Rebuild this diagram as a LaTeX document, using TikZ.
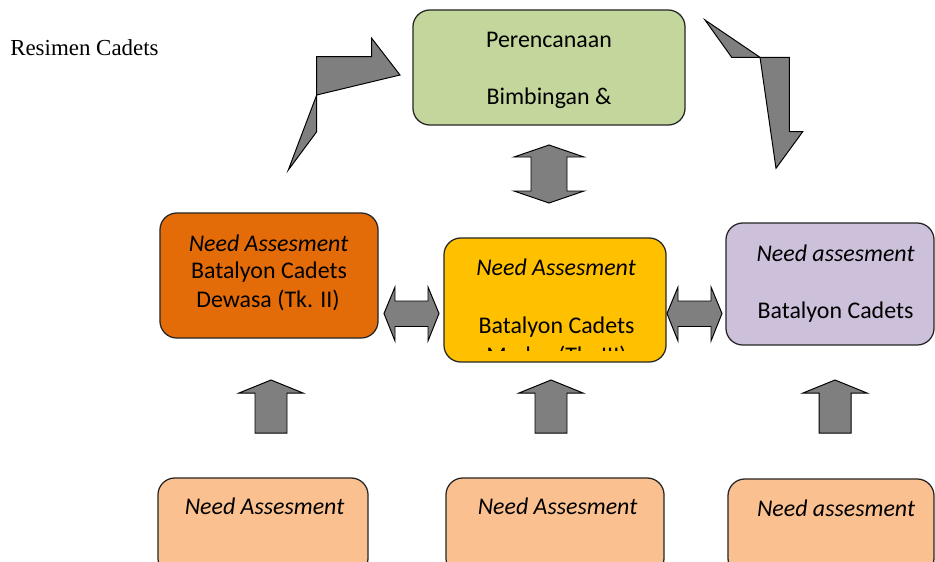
\documentclass[tikz,border=0pt]{standalone}
\usepackage{fontspec}
\setmainfont{Carlito}
\newfontfamily\captionserif{Liberation Serif}
\definecolor{plangreen}{HTML}{C3D69B}
\definecolor{seniorbox}{HTML}{E36C09}
\definecolor{middlebox}{HTML}{FFC000}
\definecolor{juniorbox}{HTML}{CCC0DA}
\definecolor{basebox}{HTML}{FAC090}
\definecolor{arrowgray}{HTML}{7F7F7F}

\begin{document}
\begin{tikzpicture}[
        x=0.025cm, y=-0.025cm,
        box/.style={draw=black!85, line width=0.9pt, rounded corners=12pt, inner sep=0pt},
        txt/.style={font=\fontsize{17}{20}\selectfont, inner sep=0pt},
        itxt/.style={txt, font=\fontsize{17}{20}\selectfont\itshape},
        blockarrow/.style={draw=black, fill=arrowgray, line width=0.7pt, line join=miter}
    ]
        \clip (0,0) rectangle (935,561);

        % boxes of the cycle
        \node[box, fill=plangreen, minimum width=6.8cm, minimum height=2.875cm] (plan) at (549,67.5) {};
        \node[box, fill=seniorbox, minimum width=5.45cm, minimum height=3.125cm] (senior) at (269,275.5) {};
        \node[box, fill=middlebox, minimum width=5.55cm, minimum height=3.1cm] (middle) at (555,300) {};
        \node[box, fill=juniorbox, minimum width=5.2cm, minimum height=3.05cm] (junior) at (830,284) {};
        \node[box, fill=basebox, minimum width=5.25cm, minimum height=2.425cm] (base-senior) at (263,526.5) {};
        \node[box, fill=basebox, minimum width=5.45cm, minimum height=2.425cm] (base-middle) at (555,526.5) {};
        \node[box, fill=basebox, minimum width=5.15cm, minimum height=2.4cm] (base-junior) at (831,527) {};

        % texts
        \node[anchor=west, inner sep=0pt, font=\captionserif\fontsize{16.3}{19}\selectfont] (title) at (10,48) {Resimen Cadets};
        \node[txt] (plan-1) at (549,40) {Perencanaan};
        \node[txt] (plan-2) at (549,98) {Bimbingan \&};
        \node[itxt] (senior-1) at (268.5,243) {Need Assesment};
        \node[txt] (senior-2) at (269,272) {Batalyon Cadets};
        \node[txt] (senior-3) at (268,300) {Dewasa (Tk. II)};
        \node[itxt] (middle-1) at (556,267) {Need Assesment};
        \node[txt] (middle-2) at (556.5,327) {Batalyon Cadets};
        \begin{scope}
            \clip (448,242) rectangle (662,350);
            \node[txt] (middle-3) at (556.5,357) {Madya (Tk. III)};
        \end{scope}
        \node[itxt] (junior-1) at (835.5,253) {Need assesment};
        \node[txt] (junior-2) at (835.5,312) {Batalyon Cadets};
        \node[itxt] (base-1) at (264.5,506) {Need Assesment};
        \node[itxt] (base-2) at (557.5,506) {Need Assesment};
        \node[itxt] (base-3) at (836,508) {Need assesment};

        % block arrows up
        \foreach \cx in {271,551,835} {
            \draw[blockarrow] (\cx,380) -- (\cx+32,393) -- (\cx+16,393) -- (\cx+16,433)
                -- (\cx-16,433) -- (\cx-16,393) -- (\cx-32,393) -- cycle;
        }

        % two-way arrow between plan and middle
        \draw[blockarrow] (549,145) -- (584,157) -- (567,157) -- (567,191) -- (584,191)
            -- (549,203) -- (514,191) -- (531,191) -- (531,157) -- (514,157) -- cycle;

        % two-way arrows between the battalions
        \foreach \cx in {411.5,694.5} {
            \draw[blockarrow] (\cx-27.5,313.5) -- (\cx-16.5,287) -- (\cx-16.5,301) -- (\cx+16.5,301)
                -- (\cx+16.5,287) -- (\cx+27.5,313.5) -- (\cx+16.5,341) -- (\cx+16.5,326.5)
                -- (\cx-16.5,326.5) -- (\cx-16.5,341) -- cycle;
        }

        % bent arrows round the top
        \draw[blockarrow] (316.7,56.7) -- (371.7,56.7) -- (371.7,38.3) -- (400,75) -- (316.7,95)
            -- (288.3,170) -- (316.7,131.7) -- cycle;
        \draw[blockarrow] (705,20) -- (760,57.3) -- (789.3,57.3) -- (789.3,131.7) -- (802.7,131.7)
            -- (776,168.3) -- (760,57.3) -- (731.7,57.3) -- cycle;
    \end{tikzpicture}
\end{document}
